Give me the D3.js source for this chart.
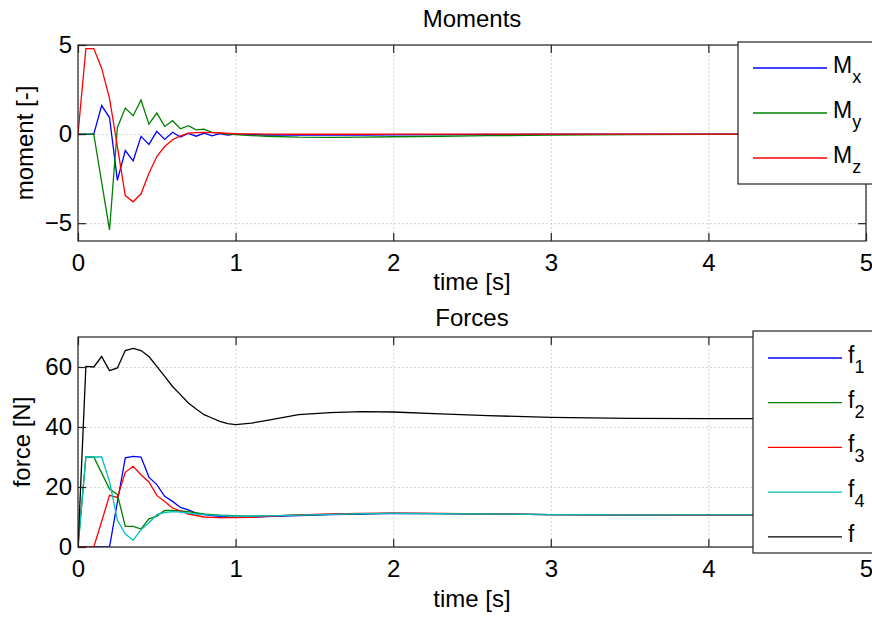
<!DOCTYPE html>
<html>
<head>
<meta charset="utf-8">
<script src="https://cdn.jsdelivr.net/npm/d3@7"></script>
<style>
  body { margin: 0; background: #fff; }
  svg text { font-family: "Liberation Sans", Arial, sans-serif; fill: #000; }
  .grid line { stroke: #c8c8c8; stroke-width: 0.8; stroke-dasharray: 2,2; }
  .grid path { display: none; }
  .axis path { display: none; }
  .axis line { stroke: #222; stroke-width: 1.2; }
  .series { fill: none; stroke-width: 1.3; }
</style>
</head>
<body>
<div id="chart"></div>
<script>
// SVG area
var svgWidth = 872;
var svgHeight = 617;

// sample times (s)
var time = [0, 0.05, 0.1, 0.15, 0.2, 0.25, 0.3, 0.35, 0.4, 0.45, 0.5,
            0.55, 0.6, 0.65, 0.7, 0.75, 0.8, 0.85, 0.9, 0.95, 1.0,
            1.1, 1.2, 1.4, 1.6, 1.8, 2.0, 2.3, 2.6, 3.0, 3.5, 4.0, 4.5, 5.0];

// moments
var momentX = [0, 0, 0, 1.6, 0.93, -2.6, -0.92, -1.5, -0.13, -0.58, 0.15,
               -0.3, 0.1, -0.17, 0.04, -0.12, 0.05, -0.1, 0.02, -0.06, 0.0,
               -0.03, -0.05, -0.06, -0.06, -0.05, -0.04, -0.03, -0.02, -0.01, 0, 0, 0, 0];
var momentY = [0, 0, 0, -2.7, -5.38, 0.37, 1.46, 1.03, 1.91, 0.56, 1.18,
               0.43, 0.75, 0.3, 0.47, 0.24, 0.28, 0.1, 0.07, 0.0, -0.03,
               -0.08, -0.12, -0.17, -0.18, -0.17, -0.15, -0.12, -0.09, -0.06, -0.03, -0.02, -0.01, 0];
var momentZ = [0, 4.8, 4.8, 3.7, 2.0, -0.7, -3.45, -3.8, -3.35, -2.2, -1.26,
               -0.7, -0.32, -0.1, 0.05, 0.08, 0.1, 0.08, 0.06, 0.04, 0.02,
               0.01, 0, -0.01, -0.01, -0.01, 0, 0, 0, 0, 0, 0, 0, 0];

// forces
var force1 = [0, 0, 0, 0, 0, 15, 29.7, 30.2, 30, 23.3, 20.8,
              16.9, 15.2, 13.2, 12.4, 11.3, 10.8, 10.5, 10.2, 10.0, 9.9,
              9.9, 10.1, 10.5, 10.8, 11.0, 11.2, 11.1, 11.0, 10.8, 10.7, 10.7, 10.6, 10.6];
var force2 = [0, 30, 30, 24.7, 19.3, 17.5, 6.9, 6.9, 6.0, 9.4, 10.3,
              12.2, 12.2, 12.0, 11.8, 11.4, 11.0, 10.8, 10.6, 10.5, 10.4,
              10.3, 10.4, 10.6, 10.9, 11.1, 11.2, 11.1, 11.0, 10.8, 10.7, 10.7, 10.7, 10.7];
var force3 = [0, 0, 0, 8.5, 17.2, 16.5, 24.9, 26.9, 24.1, 21.7, 17.2,
              15.2, 13.0, 12.0, 11.0, 10.5, 10.0, 9.9, 9.8, 9.8, 9.8,
              9.9, 10.2, 10.7, 11.0, 11.2, 11.3, 11.2, 11.0, 10.8, 10.7, 10.6, 10.6, 10.6];
var force4 = [0, 30, 30, 30, 21.9, 8.9, 4.4, 2.2, 5.8, 8.0, 10.8,
              11.5, 11.8, 11.6, 11.3, 11.0, 10.8, 10.6, 10.5, 10.4, 10.3,
              10.3, 10.4, 10.6, 10.9, 11.1, 11.2, 11.1, 11.0, 10.8, 10.7, 10.7, 10.7, 10.7];
var forceTotal = [0, 60.2, 60, 63.5, 58.8, 59.7, 65.5, 66.2, 65.5, 63.5, 60.2,
                  56.9, 53.5, 50.8, 48, 46, 44.1, 43, 41.9, 41.1, 40.8,
                  41.3, 42.2, 44.1, 44.8, 45.1, 45.0, 44.4, 43.8, 43.2, 42.9, 42.8, 42.8, 42.8];

// ticks
var timeTicks = [0, 1, 2, 3, 4, 5];
var momentTicks = [-5, 0, 5];
var forceTicks = [0, 20, 40, 60];

var svg = d3.select("#chart")
  .append("svg")
  .attr("width", svgWidth)
  .attr("height", svgHeight);

svg.append("rect")
  .attr("width", svgWidth)
  .attr("height", svgHeight)
  .attr("fill", "#fff");

var intFormat = d3.format("d");

function drawPanel(p) {
  var width = p.right - p.left;
  var height = p.bottom - p.top;

  var x = d3.scaleLinear().domain([0, 5]).range([0, width]);
  var y = d3.scaleLinear().domain(p.yDomain).range([height, 0]);

  var g = svg.append("g")
    .attr("transform", `translate(${p.left}, ${p.top})`);

  // dotted grid
  g.append("g")
    .classed("grid", true)
    .attr("transform", `translate(0, ${height})`)
    .call(d3.axisBottom(x).tickValues(timeTicks).tickSize(-height).tickFormat(""));
  g.append("g")
    .classed("grid", true)
    .call(d3.axisLeft(y).tickValues(p.yTicks).tickSize(-width).tickFormat(""));

  // clip the curves to the plot box
  g.append("clipPath")
    .attr("id", p.id + "-clip")
    .append("rect")
    .attr("width", width)
    .attr("height", height);

  var line = d3.line()
    .x((d, i) => x(time[i]))
    .y(d => y(d));

  g.append("g")
    .attr("clip-path", `url(#${p.id}-clip)`)
    .selectAll("path")
    .data(p.series)
    .enter()
    .append("path")
    .classed("series", true)
    .attr("stroke", d => d.color)
    .attr("d", d => line(d.values));

  // axes, ticks pointing inward
  var bottomAxis = g.append("g")
    .classed("axis", true)
    .attr("transform", `translate(0, ${height})`)
    .call(d3.axisBottom(x).tickValues(timeTicks).tickFormat(intFormat)
      .tickSize(-8).tickSizeOuter(0).tickPadding(13));
  bottomAxis.selectAll("text").attr("font-size", 24).attr("dy", "0.71em");

  g.append("g")
    .classed("axis", true)
    .call(d3.axisTop(x).tickValues(timeTicks).tickSize(-8).tickSizeOuter(0).tickFormat(""));

  var leftAxis = g.append("g")
    .classed("axis", true)
    .call(d3.axisLeft(y).tickValues(p.yTicks).tickFormat(intFormat)
      .tickSize(-8).tickSizeOuter(0).tickPadding(6));
  leftAxis.selectAll("text").attr("font-size", 24);

  g.append("g")
    .classed("axis", true)
    .attr("transform", `translate(${width}, 0)`)
    .call(d3.axisRight(y).tickValues(p.yTicks).tickSize(-8).tickSizeOuter(0).tickFormat(""));

  // frame
  g.append("rect")
    .attr("width", width)
    .attr("height", height)
    .attr("fill", "none")
    .attr("stroke", "#222")
    .attr("stroke-width", 1.2);

  // title and labels
  g.append("text")
    .attr("x", width / 2)
    .attr("y", p.titleY - p.top)
    .attr("text-anchor", "middle")
    .attr("font-size", 24)
    .text(p.title);

  g.append("text")
    .attr("x", width / 2)
    .attr("y", p.xLabelY - p.top)
    .attr("text-anchor", "middle")
    .attr("font-size", 24)
    .text("time [s]");

  g.append("text")
    .attr("transform", `translate(${p.yLabelX - p.left}, ${p.yLabelY - p.top}) rotate(-90)`)
    .attr("text-anchor", "middle")
    .attr("font-size", 24)
    .text(p.yLabel);

  // legend box
  var lg = svg.append("g")
    .attr("transform", `translate(${p.legend.x}, ${p.legend.y})`);
  lg.append("rect")
    .attr("width", 160)
    .attr("height", p.legend.h)
    .attr("fill", "#fff")
    .attr("stroke", "#222")
    .attr("stroke-width", 1.2);

  var items = lg.selectAll("g.item")
    .data(p.series)
    .enter()
    .append("g")
    .classed("item", true)
    .attr("transform", (d, i) => `translate(0, ${p.legend.first + i * p.legend.step})`);

  items.append("line")
    .attr("x1", 15)
    .attr("x2", 89)
    .attr("stroke", d => d.color)
    .attr("stroke-width", 1.3);

  var label = items.append("text")
    .attr("x", 95)
    .attr("y", 5)
    .attr("font-size", 23);
  label.append("tspan").text(d => d.name);
  label.append("tspan")
    .attr("dy", 10)
    .attr("font-size", 18)
    .text(d => d.sub);
}

drawPanel({
  id: "moments",
  left: 78, right: 866, top: 45, bottom: 241,
  yDomain: [-6, 5],
  yTicks: momentTicks,
  title: "Moments", titleY: 27,
  xLabelY: 290,
  yLabel: "moment [-]", yLabelX: 33, yLabelY: 143,
  legend: { x: 738, y: 42, h: 142, first: 26, step: 45 },
  series: [
    { name: "M", sub: "x", color: "#0000ff", values: momentX },
    { name: "M", sub: "y", color: "#008000", values: momentY },
    { name: "M", sub: "z", color: "#ff0000", values: momentZ }
  ]
});

drawPanel({
  id: "forces",
  left: 78, right: 866, top: 337, bottom: 547,
  yDomain: [0, 70],
  yTicks: forceTicks,
  title: "Forces", titleY: 326,
  xLabelY: 607,
  yLabel: "force [N]", yLabelX: 30, yLabelY: 442,
  legend: { x: 753, y: 331, h: 222, first: 27, step: 44.7 },
  series: [
    { name: "f", sub: "1", color: "#0000ff", values: force1 },
    { name: "f", sub: "2", color: "#008000", values: force2 },
    { name: "f", sub: "3", color: "#ff0000", values: force3 },
    { name: "f", sub: "4", color: "#00bfbf", values: force4 },
    { name: "f", sub: "", color: "#000000", values: forceTotal }
  ]
});
</script>
</body>
</html>
